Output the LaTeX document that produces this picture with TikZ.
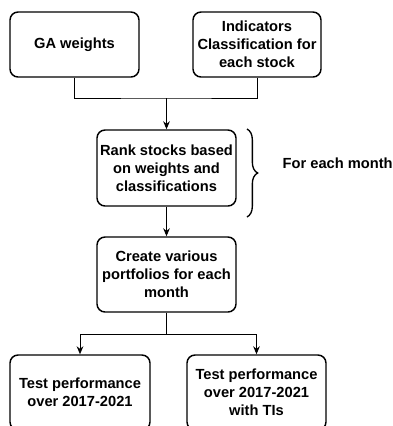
\documentclass[tikz,border=0pt]{standalone}
\usepackage{fontspec}
\setmainfont{Liberation Sans}
\usetikzlibrary{arrows.meta,decorations.pathreplacing}
\begin{document}
\begin{tikzpicture}[x=0.75pt,y=-0.75pt,
    box/.style={draw,line width=1.1pt,rounded corners=6pt,align=center,
      font=\fontsize{11}{13.5}\selectfont\bfseries,inner sep=0pt},
    link/.style={line width=0.7pt},
    arr/.style={link,-{Stealth[length=6pt,width=5pt]}}]
  \clip (0,0) rectangle (393,426);
  \node[box,minimum width=129*0.75pt,minimum height=65*0.75pt] (ga) at (74.5,44.5) {GA weights};
  \node[box,minimum width=128*0.75pt,minimum height=65*0.75pt] (ind) at (257,44.5) {Indicators\\Classification for\\each stock};
  \node[box,minimum width=139*0.75pt,minimum height=76*0.75pt] (rank) at (166.5,168) {Rank stocks based\\on weights and\\classifications};
  \node[box,minimum width=139*0.75pt,minimum height=75*0.75pt] (create) at (166.5,274.5) {Create various\\portfolios for each\\month};
  \node[box,minimum width=140*0.75pt,minimum height=75*0.75pt] (test1) at (80,392.5) {Test performance\\over 2017-2021};
  \node[box,minimum width=139*0.75pt,minimum height=75*0.75pt] (test2) at (256.5,392.5) {Test performance\\over 2017-2021\\with TIs};
  \node[anchor=west,font=\fontsize{11}{13.5}\selectfont\bfseries] (month) at (278,163) {For each month};
  % joins
  \coordinate (j1) at (166.5,98);
  \coordinate (j2) at (166.5,334);
  \draw[link] (ga.south) |- (j1) -| (ind.south);
  \draw[arr] (j1) -- (rank.north);
  \draw[arr] (rank.south) -- (create.north);
  \draw[link] (create.south) -- (j2);
  \draw[arr] (j2) -| (test1.north);
  \draw[arr] (j2) -| (test2.north);
  % brace
  \draw[line width=1pt,decorate,decoration={brace,amplitude=8pt}] (247,129) -- (247,217);
\end{tikzpicture}
\end{document}
